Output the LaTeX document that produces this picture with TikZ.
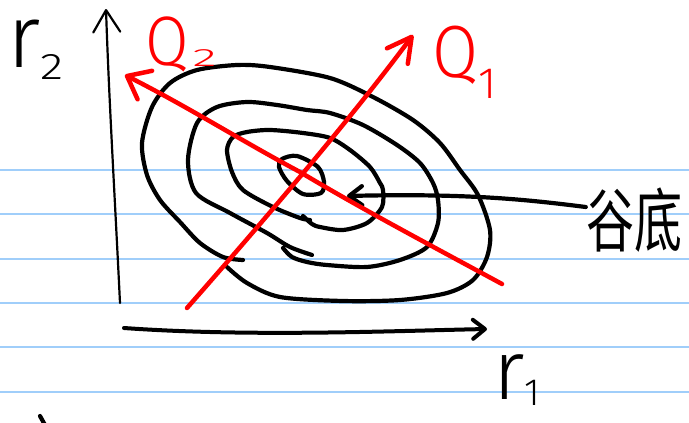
\documentclass[tikz,border=0pt]{standalone}
\usepackage{fontspec}
\usepackage{graphicx}
\setmainfont{Liberation Sans}
\newfontfamily\handfont{Fira Sans Light}
\newfontfamily\cjkfont{Noto Sans CJK SC}
\usetikzlibrary{positioning,arrows.meta}
\definecolor{ruleblue}{RGB}{160,206,250}
\definecolor{penred}{RGB}{255,0,0}
\tikzset{
  ruleline/.style={ruleblue, line width=1.5pt},
  contour/.style={line width=4.2pt, line cap=round, line join=round},
  handtip/.style n args={2}{-{Straight Barb[length=#1, width=#2, round]}},
  vaxis/.style={line width=2.2pt, line cap=round},
  haxis/.style={line width=4pt, line cap=round},
  qaxis/.style={penred, line width=4.5pt, line cap=round, line join=round},
  rlabel/.style={inner sep=0pt, anchor=base west, font=\handfont},
  qlabel/.style={penred, inner sep=0pt, anchor=base west, font=\handfont}
}

\begin{document}
\begin{tikzpicture}[x=1pt, y=-1pt]
  \fill[white] (0,0) rectangle (689,423);
  \useasboundingbox (0,0) rectangle (689,423);
  % ruled paper
  \foreach \ly in {170,214,259,303,347,392}
    \draw[ruleline] (0,\ly) -- (689,\ly);

  % axes
  \coordinate (r2bot) at (120,303);
  \coordinate (r2top) at (106,9);
  \coordinate (r1start) at (124,328);
  \coordinate (r1end) at (487,329);
  \draw[vaxis, handtip={22pt}{27pt}] (r2bot) .. controls (115,200) and (109,100) .. (r2top);
  \draw[haxis, handtip={12pt}{19pt}] (r1start) .. controls (250,337) and (390,331) .. (r1end);
  \node[rlabel] (r2lab) at (7,67) {\fontsize{89}{89}\selectfont r\raisebox{-12pt}{\scalebox{1.3}[1]{\fontsize{37}{37}\selectfont 2}}};
  \node[rlabel] (r1lab) at (493,399) {\fontsize{84}{84}\selectfont r\raisebox{-6pt}{\fontsize{38}{38}\selectfont 1}};

  % contours
  \draw[contour] plot[smooth] coordinates {(227,267) (247,283) (280,297) (343,301) (400,300) (447,293) (473,280) (487,257) (490,230) (478,195) (460,170) (440,143) (413,120) (373,97) (330,78) (270,67) (237,65) (197,70) (170,83) (152,107) (142,143) (147,175) (160,200) (180,222) (200,243) (223,257) (243,260)};
  \draw[contour] plot[smooth] coordinates {(283,248) (292,257) (307,262) (327,265) (367,267) (400,260) (427,247) (438,223) (438,200) (433,183) (420,163) (397,145) (363,125) (330,113) (307,110) (277,105) (247,102) (217,107) (197,123) (188,160) (196,193) (230,213) (267,233) (290,247) (312,255)};
  \draw[contour] plot[smooth] coordinates {(303,216) (312,224) (320,227) (343,230) (367,223) (382,207) (383,190) (380,183) (370,167) (350,150) (330,138) (303,133) (270,130) (247,132) (233,137) (227,150) (232,172) (243,190) (273,207) (300,218) (310,220)};
  \draw[contour] plot[smooth cycle] coordinates {(282,159) (297,156) (318,167) (324,182) (321,193) (303,194) (287,181) (279,167)};

  % valley floor
  \node[inner sep=0pt] (valley) at (634,220) {\cjkfont\fontsize{48}{48}\selectfont\scalebox{1}[1.45]{谷底}};
  \coordinate (valleytip) at (347,196);
  \draw[contour, handtip={13pt}{19pt}] ([yshift=13pt]valley.west) .. controls (530,200) and (470,193) .. (valleytip);

  % principal directions
  \coordinate (q1start) at (187,308);
  \coordinate (q1end) at (413,35);
  \coordinate (q2start) at (502,284);
  \coordinate (q2mid) at (300,172);
  \coordinate (q2end) at (125,75);
  \draw[qaxis, handtip={24pt}{26pt}] (q1start) .. controls (260,225) and (350,120) .. (q1end);
  \draw[qaxis, handtip={20pt}{32pt}] (q2start) .. controls (430,245) and (360,208) .. (q2mid) .. controls (240,140) and (190,108) .. (q2end);
  \node[qlabel] (q1lab) at (432,77) {\fontsize{74}{74}\selectfont\scalebox{0.9}[1]{Q}\raisebox{-21pt}{\fontsize{44}{44}\selectfont 1}};
  \node[qlabel] (q2lab) at (145,65) {\fontsize{70}{70}\selectfont\scalebox{0.9}[1]{Q}\hspace{4pt}\raisebox{-1pt}{\scalebox{2}[1]{\fontsize{25}{25}\selectfont 2}}};

  \draw[contour] (40,416) -- (45,425);
\end{tikzpicture}
\end{document}
